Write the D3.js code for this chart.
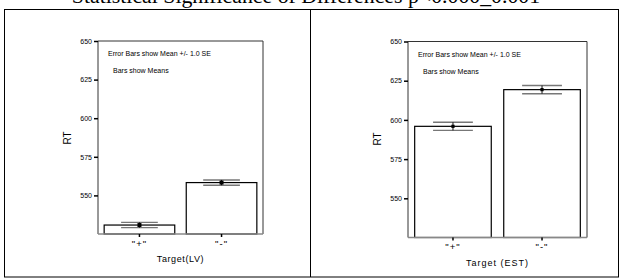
<!DOCTYPE html>
<html><head><meta charset="utf-8">
<script src="https://cdn.jsdelivr.net/npm/d3@7"></script>
<style>
html,body{margin:0;padding:0;background:#fff;overflow:hidden}
svg{display:block}
</style></head>
<body>
<svg id="chart" width="620" height="280"></svg>
<script>
// ---- data ----
const titleText = "Statistical Significance of Differences p<0.000_0.001";
const categories = ['"+"', '"-"'];
const meansLV = [530.8, 558.3];
const seLV = [1.7, 1.7];
const meansEST = [595.9, 619.3];
const seEST = [2.6, 2.6];
const yTicks = [550, 575, 600, 625, 650];
const yDomain = [525, 650];
const xTitles = ["Target(LV)", "Target (EST)"];
const yTitle = "RT";
const note1 = "Error Bars show Mean +/- 1.0 SE";
const note2 = "Bars show Means";

const svg = d3.select("#chart");
const sans = "'Liberation Sans', Arial, sans-serif";

// title (clipped at top, as in the original)
svg.append("text").attr("x", 306).attr("y", 3).attr("text-anchor", "middle")
  .attr("font-family", "'Liberation Serif', 'Times New Roman', serif").attr("font-size", 21.8)
  .attr("fill", "#000").text(titleText);

// table borders
svg.append("rect").attr("x", 4.5).attr("y", 9.5).attr("width", 614).attr("height", 267.5)
  .attr("fill", "none").attr("stroke", "#000").attr("stroke-width", 1);
svg.append("line").attr("x1", 310.5).attr("x2", 310.5).attr("y1", 9.5).attr("y2", 277)
  .attr("stroke", "#000").attr("stroke-width", 1);

function panel(p) {
  const g = svg.append("g");
  const x = d3.scaleBand().domain(categories).range([p.x0, p.x1]).paddingInner(0.14).paddingOuter(0.075);
  const y = d3.scaleLinear().domain(yDomain).range([p.y1, p.y0]);

  // frame
  g.append("path").attr("d", `M${p.x0},${p.y1}V${p.y0}H${p.x1}V${p.y1}`)
    .attr("fill", "none").attr("stroke", "#333").attr("stroke-width", 1);

  // bars
  g.selectAll("rect.bar").data(p.means).join("rect").attr("class", "bar")
    .attr("x", (d, i) => x(categories[i]))
    .attr("width", x.bandwidth())
    .attr("y", d => y(d))
    .attr("height", d => y(yDomain[0]) - y(d))
    .attr("fill", "#fff").attr("stroke", "#000").attr("stroke-width", 1.2);

  // bottom axis line (gray)
  g.append("line").attr("x1", p.x0).attr("x2", p.x1).attr("y1", p.y1).attr("y2", p.y1)
    .attr("stroke", "#888").attr("stroke-width", 1.5);

  // error bars
  const capHalf = x.bandwidth() * 0.26;
  p.means.forEach((m, i) => {
    const cx = x(categories[i]) + x.bandwidth() / 2;
    const se = p.se[i];
    [m + se, m - se].forEach(v => {
      g.append("line").attr("x1", cx - capHalf).attr("x2", cx + capHalf)
        .attr("y1", y(v)).attr("y2", y(v)).attr("stroke", "#777").attr("stroke-width", 1.4);
    });
    g.append("line").attr("x1", cx).attr("x2", cx).attr("y1", y(m + se)).attr("y2", y(m - se))
      .attr("stroke", "#111").attr("stroke-width", 1);
    g.append("rect").attr("x", cx - p.mk / 2).attr("y", y(m) - p.mk / 2)
      .attr("width", p.mk).attr("height", p.mk).attr("fill", "#000");
  });

  // y axis
  const ya = g.append("g").attr("transform", `translate(${p.x0},0)`)
    .call(d3.axisLeft(y).tickValues(yTicks).tickSize(4).tickPadding(2).tickFormat(d3.format("d")));
  ya.select(".domain").remove();
  ya.selectAll(".tick line").attr("stroke", "#000").attr("stroke-width", 1.5);
  ya.selectAll(".tick text").attr("font-family", sans).attr("font-size", 7).attr("fill", "#000");

  // x axis
  const xa = g.append("g").attr("transform", `translate(0,${p.y1})`)
    .call(d3.axisBottom(x).tickSize(3).tickPadding(3));
  xa.select(".domain").remove();
  xa.selectAll(".tick line").attr("stroke", "#000").attr("stroke-width", 1.5);
  xa.selectAll(".tick text").attr("font-family", sans).attr("font-size", 9.5)
    .attr("letter-spacing", 1).attr("fill", "#000");

  // titles
  g.append("text").attr("x", (p.x0 + p.x1) / 2).attr("y", p.y1 + 28).attr("text-anchor", "middle")
    .attr("font-family", sans).attr("font-size", 9).attr("letter-spacing", p.ls).attr("fill", "#000")
    .text(p.xTitle);
  g.append("text").attr("transform", `translate(${p.x0 - 27},${p.yt}) rotate(-90)`)
    .attr("text-anchor", "middle").attr("font-family", sans).attr("font-size", 10).attr("fill", "#000")
    .text(yTitle);

  // notes
  g.append("text").attr("x", p.x0 + 10).attr("y", p.y0 + 15).attr("font-family", sans)
    .attr("font-size", 7).attr("fill", "#000").text(note1);
  g.append("text").attr("x", p.x0 + 15).attr("y", p.y0 + 32).attr("font-family", sans)
    .attr("font-size", 7).attr("fill", "#000").text(note2);
}

panel({x0: 98, x1: 263, y0: 41, y1: 234, means: meansLV, se: seLV, xTitle: xTitles[0], mk: 4, yt: 138, ls: 0.6});
panel({x0: 408, x1: 587, y0: 41.5, y1: 237.5, means: meansEST, se: seEST, xTitle: xTitles[1], mk: 3.2, yt: 139, ls: 1});
</script>
</body></html>
